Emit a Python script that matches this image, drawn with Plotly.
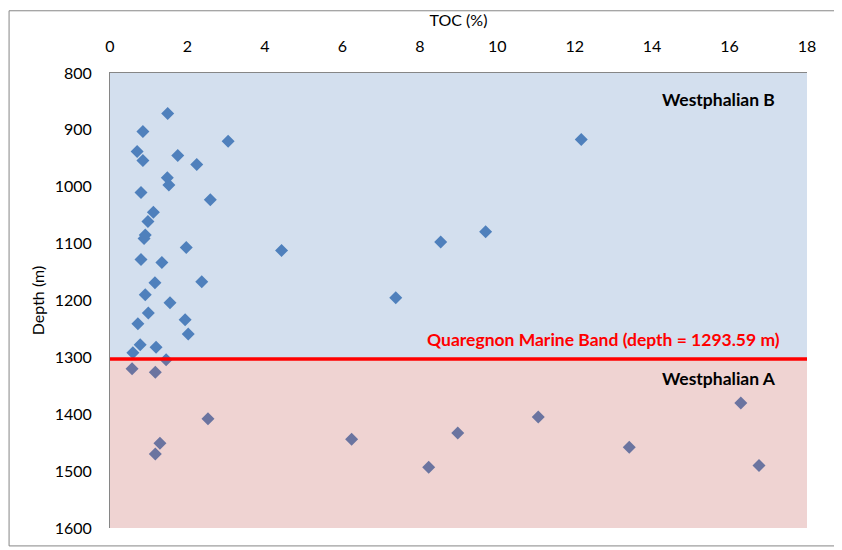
import plotly.graph_objects as go

# TOC (%) vs depth (m)
toc = [
    1.49, 0.85, 3.05, 0.70, 0.85, 1.75, 2.24, 1.48, 1.52, 0.80,
    2.59, 1.12, 0.98, 0.91, 0.88, 1.97, 4.43, 0.80, 1.34, 1.16,
    2.37, 0.91, 1.55, 0.99, 0.72, 1.94, 2.02, 0.78, 1.19, 0.59,
    1.45, 12.17, 9.70, 8.54, 7.38,
    0.57, 1.17, 2.53, 1.29, 1.17, 6.24, 8.98, 8.23, 11.06, 13.41,
    16.29, 16.76,
]
depth = [
    871, 903, 920, 938, 954, 945, 961, 984, 997, 1010,
    1023, 1045, 1061, 1085, 1091, 1107, 1112, 1128, 1133, 1169,
    1167, 1190, 1204, 1222, 1241, 1234, 1259, 1278, 1282, 1292,
    1304, 917, 1079, 1097, 1195,
    1320, 1326, 1408, 1451, 1470, 1444, 1433, 1493, 1405, 1458,
    1380, 1490,
]

band_depth = 1303  # where the marine band line is drawn
band_label = "Quaregnon Marine Band (depth = 1293.59 m)"
x_range = [0, 18]
y_range = [1600, 800]

# the page body adds an 8px offset, so the figure is 8px smaller than the window
W, H = 834, 542
ML, MR, MT, MB = 101.5, 35, 63, 22
font = "Lato, 'Open Sans', sans-serif"

fig = go.Figure()
fig.add_trace(go.Scatter(
    x=toc, y=depth, mode="markers",
    marker=dict(symbol="diamond", size=10, color="#4F81BD", line=dict(width=0)),
    hoverinfo="x+y", showlegend=False,
))

# shaded units (semi-transparent, on top of the markers like the original)
fig.add_shape(type="rect", xref="x", yref="y", x0=x_range[0], x1=x_range[1],
              y0=y_range[1], y1=band_depth, fillcolor="#4F81BD", opacity=0.25,
              line=dict(width=0), layer="above")
fig.add_shape(type="rect", xref="x", yref="y", x0=x_range[0], x1=x_range[1],
              y0=band_depth, y1=y_range[0], fillcolor="#C0504D", opacity=0.25,
              line=dict(width=0), layer="above")
fig.add_shape(type="line", xref="x", yref="y", x0=x_range[0], x1=x_range[1],
              y0=band_depth, y1=band_depth, line=dict(color="#FF0000", width=3.5),
              layer="above")

# chart area border
pw, ph = W - ML - MR, H - MT - MB
fig.add_shape(type="rect", xref="paper", yref="paper",
              x0=(0.5 - ML) / pw, x1=(831 - ML) / pw,
              y0=1 - (538 - MT) / ph, y1=1 - (0.5 - MT) / ph,
              line=dict(color="#868686", width=1), layer="below")

fig.add_annotation(text="<b>Westphalian B</b>", x=0.957, y=846, xref="paper", yref="y",
                   xanchor="right", yanchor="middle", showarrow=False,
                   font=dict(size=17.5, color="black", family=font))
fig.add_annotation(text="<b>Westphalian A</b>", x=0.958, y=1338, xref="paper", yref="y",
                   xanchor="right", yanchor="middle", showarrow=False,
                   font=dict(size=17.5, color="black", family=font))
fig.add_annotation(text="<b>" + band_label + "</b>", x=0.964, y=1269, xref="paper", yref="y",
                   xanchor="right", yanchor="middle", showarrow=False,
                   font=dict(size=17.5, color="#FF0000", family=font))

fig.update_layout(
    width=W, height=H,
    margin=dict(l=ML, r=MR, t=MT, b=MB, pad=0),
    paper_bgcolor="white", plot_bgcolor="white",
    font=dict(family=font, size=16, color="black"),
)
fig.update_xaxes(
    side="top", range=x_range, dtick=2, showgrid=False, zeroline=False,
    showline=True, linecolor="#868686", linewidth=1,
    ticks="outside", ticklen=14, tickcolor="rgba(0,0,0,0)",
    title=dict(text="TOC (%)", standoff=4, font=dict(size=16)),
)
fig.update_yaxes(
    range=y_range, dtick=100, showgrid=False, zeroline=False,
    showline=True, linecolor="#868686", linewidth=1,
    ticks="outside", ticklen=14, tickcolor="rgba(0,0,0,0)",
    title=dict(text="Depth (m)", standoff=6, font=dict(size=16)),
)

fig.write_html("out.html")
